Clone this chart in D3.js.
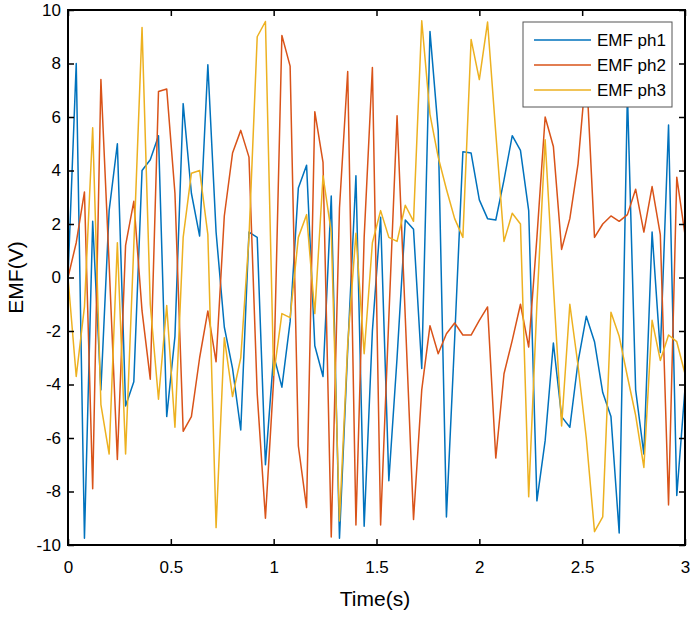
<!DOCTYPE html>
<html>
<head>
<meta charset="utf-8">
<script src="https://cdn.jsdelivr.net/npm/d3@7"></script>
<style>
  body { margin: 0; background: #fff; }
  #chart { width: 692px; height: 619px; }
  text { font-family: "Liberation Sans", Arial, sans-serif; }
</style>
</head>
<body>
<div id="chart"></div>
<script>
// data, one sample every 0.04 s
const dt = 0.04;
const ph1 = [0, 8.0, -9.75, 2.1, -4.2, 2.5, 5.0, -4.8, -3.9, 4.0, 4.4, 5.3, -5.2, -2.2, 6.5, 3.15, 1.55, 7.95, 1.7, -1.85,
  -3.4, -5.7, 1.7, 1.5, -7.0, -2.9, -4.1, -1.65, 3.35, 4.2, -2.55, -3.7, 3.05, -9.75, -2.7, 3.8, -9.3, -2.0, 2.25, -7.6,
  -3.0, 2.15, 1.8, -3.4, 9.2, 5.5, -8.95, -2.3, 4.7, 4.65, 2.9, 2.2, 2.15, 3.65, 5.3, 4.75, 2.5, -8.35, -6.1, -2.45,
  -5.2, -5.6, -3.15, -1.45, -2.4, -4.3, -5.2, -9.55, 6.9, -4.2, -6.6, 1.7, -2.8, 5.7, -8.15, -4.15];
const ph2 = [0, 1.3, 3.2, -7.9, 7.4, 0.5, -6.8, 1.2, 2.85, -1.25, -3.8, 6.95, 7.05, 3.15, -5.75, -5.2, -3.0, -1.25, -3.15, 2.3,
  4.65, 5.5, 4.5, -4.35, -9.0, -3.8, 9.05, 7.9, -6.3, -8.6, 6.2, 4.3, -9.7, 2.6, 7.7, -9.25, 1.5, 7.85, -9.25, -1.5,
  6.05, -1.5, -9.05, -4.2, -1.8, -2.85, -2.1, -1.7, -2.15, -2.15, -1.6, -1.1, -6.75, -3.6, -2.35, -1.0, -2.6, 1.5, 6.0, 4.9,
  1.05, 2.2, 4.25, 7.8, 1.5, 2.0, 2.3, 2.1, 2.35, 3.3, 1.7, 3.4, 1.6, -8.5, 3.75, 1.6];
const ph3 = [0, -3.7, -1.1, 5.6, -4.75, -6.6, 1.3, -6.6, 1.2, 9.35, -1.0, -4.55, -1.05, -5.6, 1.5, 3.9, 4.0, 1.6, -9.35, -2.25,
  -4.45, -3.0, 1.5, 9.0, 9.57, -3.65, -1.35, -1.5, 1.5, 2.35, -1.35, 3.8, 1.7, -9.1, -2.5, 1.65, -2.85, 1.3, 2.5, 1.5,
  1.35, 2.7, 2.1, 9.6, 6.1, 4.5, 3.3, 2.2, 1.5, 8.9, 7.4, 9.55, 5.4, 1.35, 2.4, 2.0, -8.2, -1.0, 5.15, -0.3,
  -5.55, -1.0, -3.3, -6.0, -9.5, -8.95, -1.3, -2.2, -3.7, -5.15, -7.1, -1.6, -3.1, -2.15, -2.4, -3.6];

const seriesNames = ["EMF ph1", "EMF ph2", "EMF ph3"];
const seriesValues = [ph1, ph2, ph3];
const xTicks = [0, 0.5, 1, 1.5, 2, 2.5, 3];
const yTicks = [-10, -8, -6, -4, -2, 0, 2, 4, 6, 8, 10];

const colorMap = ["#0072BD", "#D95319", "#EDB120"];

const width = 692;
const height = 619;
const margin = { top: 10, right: 7, bottom: 74, left: 68 };

const svg = d3.select("#chart").append("svg")
  .attr("width", width)
  .attr("height", height);

const xScale = d3.scaleLinear().domain([0, 3]).range([margin.left, width - margin.right]);
const yScale = d3.scaleLinear().domain([-10, 10]).range([height - margin.bottom, margin.top]);

const line = d3.line()
  .x((d, i) => xScale(i * dt))
  .y((d) => yScale(d));

// clip lines to the axes box
svg.append("clipPath").attr("id", "clip")
  .append("rect")
  .attr("x", margin.left).attr("y", margin.top)
  .attr("width", width - margin.left - margin.right)
  .attr("height", height - margin.top - margin.bottom);

const plot = svg.append("g").attr("clip-path", "url(#clip)");

seriesValues.forEach((vals, k) => {
  plot.append("path")
    .datum(vals)
    .attr("fill", "none")
    .attr("stroke", colorMap[k])
    .attr("stroke-width", 1.5)
    .attr("stroke-linejoin", "round")
    .attr("d", line);
});

// axes, ticks inward on all four sides (plain hyphen minus like matlab)
const tickLen = 6;
const fontSize = "17px";
const fmt = (d) => String(d);

const xAxis = d3.axisBottom(xScale).tickValues(xTicks).tickSize(-tickLen).tickPadding(16).tickFormat(fmt);
const xAxisTop = d3.axisTop(xScale).tickValues(xTicks).tickSize(-tickLen).tickFormat("");
const yAxis = d3.axisLeft(yScale).tickValues(yTicks).tickSize(-tickLen).tickPadding(7).tickFormat(fmt);
const yAxisRight = d3.axisRight(yScale).tickValues(yTicks).tickSize(-tickLen).tickFormat("");

const styleAxis = (g) => {
  g.select(".domain").remove();
  g.selectAll(".tick line").attr("stroke", "#000").attr("stroke-width", 1.5);
  g.selectAll(".tick text").attr("fill", "#000").style("font-size", fontSize);
};

svg.append("g")
  .attr("transform", `translate(0, ${height - margin.bottom})`)
  .call(xAxis).call(styleAxis);
svg.append("g")
  .attr("transform", `translate(0, ${margin.top})`)
  .call(xAxisTop).call(styleAxis);
svg.append("g")
  .attr("transform", `translate(${margin.left}, 0)`)
  .call(yAxis).call(styleAxis);
svg.append("g")
  .attr("transform", `translate(${width - margin.right}, 0)`)
  .call(yAxisRight).call(styleAxis);

svg.append("rect")
  .attr("x", margin.left).attr("y", margin.top)
  .attr("width", width - margin.left - margin.right)
  .attr("height", height - margin.top - margin.bottom)
  .attr("fill", "none")
  .attr("stroke", "#000")
  .attr("stroke-width", 2);

// axis titles
svg.append("text")
  .attr("x", 375)
  .attr("y", 606)
  .attr("text-anchor", "middle")
  .style("font-size", "21px")
  .text("Time(s)");

svg.append("text")
  .attr("transform", `translate(23, ${(margin.top + height - margin.bottom) / 2}) rotate(-90)`)
  .attr("text-anchor", "middle")
  .style("font-size", "21px")
  .text("EMF(V)");

// legend
const legend = svg.append("g").attr("transform", "translate(523, 22)");

legend.append("rect")
  .attr("width", 149).attr("height", 85)
  .attr("fill", "#fff")
  .attr("stroke", "#555")
  .attr("stroke-width", 1);

seriesNames.forEach((name, k) => {
  const y = 18 + k * 25;
  legend.append("line")
    .attr("x1", 11).attr("x2", 68)
    .attr("y1", y).attr("y2", y)
    .attr("stroke", colorMap[k])
    .attr("stroke-width", 1.5);
  legend.append("text")
    .attr("x", 74).attr("y", y + 6)
    .style("font-size", "17px")
    .text(name);
});
</script>
</body>
</html>
